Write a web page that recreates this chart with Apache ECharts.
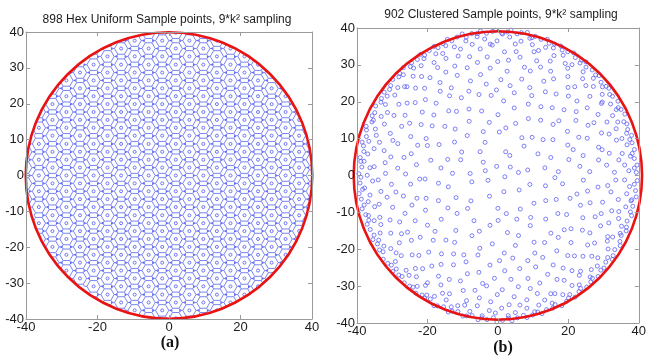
<!DOCTYPE html>
<html><head><meta charset="utf-8">
<script src="https://cdn.jsdelivr.net/npm/echarts@6/dist/echarts.min.js"></script>
<style>html,body{margin:0;padding:0;background:#fff;}#c{width:649px;height:358px;}</style>
</head><body><div id="c"></div>
<script>
// ---------- data ----------
const axisTicksX = [-40, -20, 0, 20, 40];
const axisTicksY = [-40, -30, -20, -10, 0, 10, 20, 30, 40];
const boundaryRadius = [40];

// hex lattice (left panel): column x positions, and y positions of the cell centres in
// alternating columns
const hexColX = [-40.2, -36.4, -32.6, -28.7, -24.9, -21.1, -17.2, -13.4, -9.6, -5.7, -1.9, 1.9, 5.7, 9.6, 13.4, 17.2, 21.1, 24.9, 28.7, 32.6, 36.4, 40.2];
const hexRowYOdd0 = [-37.6, -33.2, -28.7, -24.3, -19.9, -15.5, -11.1, -6.6, -2.2, 2.2, 6.6, 11.1, 15.5, 19.9, 24.3, 28.7, 33.2, 37.6];
const hexRowYEven0 = [-39.8, -35.4, -30.9, -26.5, -22.1, -17.7, -13.3, -8.8, -4.4, 0, 4.4, 8.8, 13.3, 17.7, 22.1, 26.5, 30.9, 35.4, 39.8];

// clustered points (right panel) as [radius, angle in degrees]
const clusteredRim = [[39.3,1.2],[38.8,3.0],[39.6,4.1],[39.0,6.8],[38.6,8.9],[39.4,10.3],[39.1,13.1],[38.7,14.6],[39.5,16.0],[38.9,18.7],[39.2,20.9],[38.6,22.2],[39.7,24.8],
[39.3,27.1],[38.8,28.3],[39.6,30.6],[39.0,33.4],[38.6,34.7],[39.4,36.9],[39.1,38.2],[38.7,40.8],[39.5,43.3],[38.9,44.5],[39.2,46.9],[38.6,49.6],[39.7,51.0],
[39.3,52.8],[38.8,55.5],[39.6,57.1],[39.0,59.4],[38.6,61.8],[39.4,63.0],[39.1,65.7],[38.7,67.9],[39.5,69.2],[38.9,71.6],[39.2,74.3],[38.6,75.5],[39.7,77.8],
[39.3,80.2],[38.8,81.9],[39.6,84.6],[39.0,86.1],[38.6,88.4],[39.4,90.9],[39.1,92.3],[38.7,94.8],[39.5,97.2],[38.9,98.6],[39.2,100.9],[38.6,103.5],[39.7,104.8],
[39.3,107.1],[38.8,109.7],[39.6,111.2],[39.0,113.6],[38.6,116.1],[39.4,117.4],[39.1,119.9],[38.7,122.5],[39.5,123.8],[38.9,126.0],[39.2,128.7],[38.6,130.1],[39.7,132.6],
[39.3,135.2],[38.8,136.4],[39.6,138.9],[39.0,141.3],[38.6,142.8],[39.4,145.0],[39.1,147.7],[38.7,149.1],[39.5,151.5],[38.9,154.0],[39.2,155.6],[38.6,157.9],[39.7,160.4],
[39.3,161.7],[38.8,164.2],[39.6,166.8],[39.0,168.1],[38.6,170.3],[39.4,172.9],[39.1,174.4],[38.7,176.6],[39.5,179.3],[38.9,180.7],[39.2,183.0],[38.6,185.6],[39.7,187.1],
[39.3,189.4],[38.8,191.9],[39.6,193.2],[39.0,195.8],[38.6,198.3],[39.4,199.6],[39.1,202.0],[38.7,204.7],[39.5,206.1],[38.9,208.5],[39.2,211.0],[38.6,212.4],[39.7,214.9],
[39.3,217.3],[38.8,218.8],[39.6,221.1],[39.0,223.8],[38.6,225.2],[39.4,227.6],[39.1,230.1],[38.7,231.5],[39.5,233.9],[38.9,236.4],[39.2,237.9],[38.6,240.2],[39.7,242.8],
[39.3,244.1],[38.8,246.6],[39.6,249.2],[39.0,250.5],[38.6,252.9],[39.4,255.4],[39.1,256.9],[38.7,259.1],[39.5,261.8],[38.9,263.2],[39.2,265.5],[38.6,268.1],[39.7,269.6],
[39.3,271.9],[38.8,274.5],[39.6,275.8],[39.0,278.2],[38.6,280.8],[39.4,282.1],[39.1,284.6],[38.7,287.0],[39.5,288.5],[38.9,290.8],[39.2,293.4],[38.6,294.9],[39.7,297.2],
[39.3,299.7],[38.8,301.1],[39.6,303.6],[39.0,306.2],[38.6,307.5],[39.4,309.8],[39.1,312.4],[38.7,313.9],[39.5,316.1],[38.9,318.7],[39.2,320.2],[38.6,322.5],[39.7,325.0],
[39.3,326.4],[38.8,328.8],[39.6,331.3],[39.0,332.7],[38.6,335.1],[39.4,337.6],[39.1,339.0],[38.7,341.4],[39.5,344.0],[38.9,345.3],[39.2,347.7],[38.6,350.2],[39.7,351.6],
[39.3,354.0],[38.8,356.5],[39.6,358.0]];
const clusteredOuter = [[37.2,2.0],[36.1,4.5],[38.0,7.9],[35.8,9.6],[37.6,12.8],[36.6,15.9],[38.3,17.4],[35.9,20.7],[37.0,23.1],[36.4,26.5],[38.1,28.0],[37.4,31.2],[35.7,33.9],[36.9,36.6],[38.2,39.0],[36.3,41.7],[37.8,44.2],[35.6,47.5],[37.1,49.3],[38.4,52.6],[36.7,55.0],[35.9,57.8],[37.5,60.4],[36.2,63.9],[38.0,65.5],[37.3,68.7],[35.8,71.2],[36.8,74.6],[38.3,76.3],[37.0,79.8],[36.0,82.1],[37.7,84.9],[38.4,88.0],[36.5,90.4],[35.7,93.5],[37.2,95.8],[38.1,98.9],[36.3,101.6],[37.6,104.0],[35.9,107.2],[37.0,109.5],[38.2,112.8],[36.6,115.3],[37.4,118.1],[35.6,120.6],[38.0,123.5],[36.9,126.2],[37.7,129.4],[36.1,131.8],[38.3,134.5],[35.8,137.7],[37.1,140.0],[36.5,143.3],[38.1,145.6],[37.3,148.9],[35.7,151.4],[36.8,154.2],[38.4,157.0],[37.0,160.1],[36.2,162.5],[37.8,165.8],[35.9,168.3],[37.4,171.0],[38.2,174.2],[36.4,176.7],[37.1,179.9],[35.6,182.4],[38.0,185.1],[36.7,188.3],[37.5,190.9],[36.0,193.6],[38.3,196.5],[37.2,199.2],[35.8,201.8],[36.9,205.0],[38.1,207.4],[37.6,210.6],[36.3,213.1],[35.7,216.0],[37.3,218.7],[38.4,221.3],[36.6,224.6],[37.0,227.0],[35.9,229.9],[37.8,232.7],[36.2,235.4],[38.2,238.1],[37.4,241.2],[35.6,243.8],[36.8,246.5],[38.0,249.6],[37.1,252.1],[36.4,255.0],[37.7,257.8],[35.8,260.6],[38.3,263.3],[36.7,266.2],[37.3,268.9],[36.0,271.7],[38.1,274.4],[37.5,277.6],[35.7,280.1],[36.9,282.9],[38.4,285.8],[37.0,288.3],[36.3,291.5],[37.9,294.0],[35.9,296.8],[37.2,299.7],[38.2,302.3],[36.5,305.2],[37.6,307.9],[35.6,310.5],[38.0,313.6],[36.8,316.1],[37.4,319.0],[36.1,321.8],[38.3,324.5],[37.1,327.5],[35.8,330.2],[36.6,332.9],[38.1,335.7],[37.7,338.6],[36.2,341.2],[35.7,344.1],[37.3,346.8],[38.4,349.7],[36.9,352.3],[37.5,355.4],[36.0,358.1]];
const clusteredMid = [[33.1,1.5],[31.0,5.2],[34.6,7.0],[32.2,10.8],[30.4,13.3],[35.0,15.9],[33.5,19.6],[31.6,21.4],[34.2,25.1],[30.8,27.7],[32.9,30.2],[35.3,33.6],[31.3,35.9],[33.8,39.4],[30.2,42.0],[34.9,44.3],[32.5,47.8],[31.1,50.2],[33.4,53.5],[35.2,55.7],[30.6,58.9],[32.0,62.1],[34.4,64.4],[31.8,67.6],[33.0,70.5],[35.1,73.0],[30.3,75.6],[32.7,78.9],[34.0,81.2],[31.4,84.5],[33.6,86.8],[30.9,90.1],[35.4,92.6],[32.3,95.4],[34.7,98.3],[31.2,100.7],[33.2,104.0],[30.5,106.6],[34.3,109.2],[32.1,112.4],[35.0,114.9],[31.7,117.8],[33.9,120.3],[30.1,123.1],[32.8,126.0],[34.5,128.9],[31.5,131.3],[33.3,134.6],[35.3,137.0],[30.7,139.9],[32.4,142.7],[34.1,145.5],[31.0,148.2],[33.7,151.1],[30.4,154.0],[35.1,156.6],[32.6,159.5],[31.3,162.3],[34.8,165.0],[33.0,168.2],[30.8,170.6],[32.2,173.8],[35.2,176.1],[31.9,179.0],[34.0,182.0],[30.3,184.5],[33.5,187.4],[32.0,190.6],[34.6,193.0],[31.1,196.1],[35.4,198.7],[32.9,201.5],[30.6,204.3],[34.2,207.2],[31.6,210.0],[33.4,213.1],[30.2,215.6],[35.0,218.4],[32.5,221.5],[31.2,224.0],[34.4,227.1],[33.1,229.8],[30.9,232.6],[35.3,235.5],[32.1,238.3],[33.8,241.4],[31.4,243.9],[34.9,246.8],[30.5,249.6],[32.7,252.5],[35.1,255.3],[31.8,258.2],[33.6,261.0],[30.1,263.9],[34.3,266.6],[32.3,269.7],[31.0,272.3],[35.2,275.2],[33.2,278.0],[30.7,280.9],[34.7,283.7],[32.0,286.7],[33.9,289.3],[31.5,292.2],[35.4,295.1],[30.3,297.8],[32.8,300.8],[34.1,303.5],[31.2,306.4],[33.3,309.2],[35.0,312.1],[30.8,314.9],[32.6,317.8],[34.5,320.6],[31.7,323.5],[33.0,326.3],[30.4,329.2],[35.3,332.0],[32.2,334.9],[34.0,337.8],[31.1,340.6],[33.7,343.5],[30.6,346.3],[34.8,349.2],[32.4,352.1],[31.3,355.0],[33.5,357.9]];
const clusteredInner = [[26.1,2.3],[23.4,6.1],[28.9,8.4],[24.8,12.6],[29.6,15.0],[22.5,18.2],[27.3,21.7],[25.2,24.3],[29.0,28.0],[23.1,31.2],[26.7,34.0],[28.2,37.9],[22.8,40.6],[25.9,43.5],[29.4,47.1],[24.0,50.0],[27.6,53.2],[22.3,56.8],[26.4,59.3],[28.7,63.0],[23.7,66.1],[25.5,69.2],[29.8,72.0],[27.0,75.5],[22.9,78.3],[24.6,81.9],[28.4,84.7],[26.0,88.1],[23.2,91.0],[29.2,94.3],[25.0,97.6],[27.8,100.2],[22.6,103.7],[26.8,106.9],[24.3,109.8],[29.5,113.0],[23.5,116.2],[27.2,119.1],[25.6,122.4],[28.1,125.6],[22.4,128.5],[26.3,131.8],[29.1,135.0],[24.5,137.9],[27.5,141.3],[23.0,144.2],[25.8,147.6],[28.8,150.5],[22.7,153.8],[26.9,156.9],[24.2,160.2],[29.7,163.1],[25.3,166.5],[27.1,169.6],[23.3,172.8],[28.5,176.0],[26.2,179.1],[22.2,182.5],[24.9,185.4],[29.3,188.8],[27.4,191.7],[23.8,195.0],[25.7,198.2],[28.3,201.3],[22.6,204.6],[26.5,207.6],[29.9,210.9],[24.1,214.0],[27.7,217.2],[23.4,220.3],[25.4,223.7],[28.6,226.6],[22.9,229.9],[26.6,233.0],[29.0,236.2],[24.7,239.4],[27.3,242.5],[23.6,245.8],[25.1,248.9],[28.0,252.0],[22.3,255.3],[26.8,258.4],[29.6,261.6],[24.4,264.7],[27.9,268.0],[23.1,271.2],[25.9,274.3],[28.4,277.5],[22.8,280.7],[26.0,283.8],[29.2,287.0],[24.6,290.2],[27.0,293.4],[23.5,296.5],[25.6,299.8],[28.9,302.9],[22.5,306.1],[26.4,309.3],[29.4,312.4],[24.0,315.6],[27.6,318.8],[23.9,322.0],[25.3,325.2],[28.2,328.3],[22.2,331.5],[26.7,334.6],[29.8,337.9],[24.8,341.0],[27.2,344.2],[23.0,347.4],[25.8,350.6],[28.6,353.7],[24.3,357.0]];
const clusteredCore = [[17.2,3.5],[13.5,8.9],[20.6,12.1],[15.8,18.0],[21.5,22.6],[12.8,27.3],[18.4,31.9],[16.1,37.2],[20.9,41.5],[14.2,46.8],[19.3,51.0],[12.3,56.4],[17.7,60.7],[21.2,65.9],[15.0,70.3],[18.9,75.8],[13.1,80.1],[20.3,85.4],[16.5,89.9],[21.8,95.0],[14.6,99.6],[18.1,104.8],[12.6,109.2],[19.8,114.5],[16.8,119.0],[21.0,124.1],[13.9,128.8],[17.5,133.9],[20.1,138.5],[15.3,143.6],[12.1,148.2],[18.7,153.3],[21.6,157.9],[14.9,163.0],[19.5,167.7],[16.3,172.8],[12.9,177.4],[20.7,182.6],[17.0,187.1],[14.4,192.3],[21.3,196.9],[18.2,202.0],[13.3,206.7],[16.7,211.8],[20.0,216.4],[15.5,221.6],[12.4,226.1],[19.1,231.3],[21.9,235.9],[14.0,241.0],[17.9,245.7],[16.0,250.8],[20.4,255.4],[13.7,260.6],[18.6,265.1],[12.2,270.3],[21.1,274.9],[15.7,280.0],[19.6,284.7],[17.3,289.8],[13.0,294.4],[20.8,299.6],[16.4,304.1],[14.7,309.3],[21.7,313.9],[18.0,319.0],[12.7,323.7],[19.9,328.8],[15.2,333.4],[17.8,338.6],[21.4,343.2],[13.8,348.3],[18.5,353.0],[16.2,358.0],
[8.6,10.0],[4.2,33.0],[10.9,47.0],[6.8,71.0],[2.5,98.0],[9.7,112.0],[5.5,139.0],[11.4,158.0],[7.9,176.0],[3.1,205.0],[10.3,222.0],[6.1,247.0],[8.9,270.0],[4.7,291.0],[11.1,305.0],[7.2,327.0],[2.0,350.0],[9.4,345.0],[5.9,8.0],[11.8,88.0],[7.6,193.0],[10.6,283.0],[3.8,160.0],[8.2,128.0],[6.4,58.0]];

// ---------- styling ----------
const FONT = '"Liberation Sans", Arial, Helvetica, sans-serif';
const AXIS = '#9a9a9a';
const HEX_LINE = '#7a84f2';
const HEX_DOT = '#4350ec';
const PT = '#5f62f4';
const RED = '#e81414';
const RING = 1.85;           // ring radius (data units) of a hex cell
const LIMIT = 41.5;          // centres kept inside this radius (outside is masked)

// ---------- derived tables ----------
const D = hexRowYEven0[1] - hexRowYEven0[0];        // centre-to-centre spacing
const RJ = D / Math.sqrt(3);                        // centre-to-junction distance
const hexCenters = [];
hexColX.forEach((x, i) => {
  const ys = (i % 2 === 0) ? hexRowYOdd0 : hexRowYEven0;
  ys.forEach(y => { if (Math.hypot(x, y) < LIMIT) hexCenters.push([x, y]); });
});
const toXY = p => [p[0] * Math.cos(p[1] * Math.PI / 180), p[0] * Math.sin(p[1] * Math.PI / 180)];
const clusteredPts = [].concat(clusteredRim, clusteredOuter, clusteredMid, clusteredInner, clusteredCore).map(toXY);

function hexItem(params, api) {
  const x = api.value(0), y = api.value(1);
  const P = (a, b) => api.coord([a, b]);
  const ch = [];
  const ring = [];
  for (let k = 0; k < 6; k++) {
    const a = (60 * k) * Math.PI / 180, ca = Math.cos(a), sa = Math.sin(a);
    const v = P(x + RING * ca, y + RING * sa);
    ring.push(v);
    const j = P(x + RJ * ca, y + RJ * sa);
    ch.push({ type: 'line', shape: { x1: v[0], y1: v[1], x2: j[0], y2: j[1] }, style: { stroke: HEX_LINE, lineWidth: 1 } });
  }
  ch.push({ type: 'polygon', shape: { points: ring }, style: { fill: 'transparent', stroke: HEX_LINE, lineWidth: 1 } });
  [0, 60].forEach(deg => {
    const a = deg * Math.PI / 180;
    const p = P(x + RJ * Math.cos(a), y + RJ * Math.sin(a));
    ch.push({ type: 'circle', shape: { cx: p[0], cy: p[1], r: 1.1 }, style: { fill: HEX_DOT, opacity: 0.85 } });
  });
  const c = P(x, y);
  ch.push({ type: 'circle', shape: { cx: c[0], cy: c[1], r: 1.5 }, style: { fill: 'transparent', stroke: '#6d74f2', lineWidth: 1 } });
  return { type: 'group', children: ch };
}

function circleItem(params, api) {
  const c = api.coord([0, 0]);
  const s = api.size([api.value(0), api.value(0)]);
  return { type: 'circle', shape: { cx: c[0], cy: c[1], r: (s[0] + s[1]) / 2 }, style: { fill: 'transparent', stroke: RED, lineWidth: 2.6 } };
}
function maskItem(params, api) {
  const c = api.coord([0, 0]);
  const s = api.size([api.value(0), api.value(0)]);
  const r = (s[0] + s[1]) / 2;
  return { type: 'ring', shape: { cx: c[0], cy: c[1], r: r * 1.6, r0: r }, style: { fill: '#fff' } };
}

function axisPair(gridIndex, pos, interval, showLabel) {
  return {
    type: 'value', gridIndex, position: pos, min: axisTicksX[0], max: axisTicksX[axisTicksX.length - 1], interval, z: 10,
    axisLine: { show: true, onZero: false, lineStyle: { color: AXIS, width: 1 } },
    axisTick: { show: true, inside: true, length: 4, lineStyle: { color: AXIS } },
    splitLine: { show: false },
    axisLabel: showLabel ? { show: true, color: '#1c1c1c', fontSize: 13, fontFamily: FONT, margin: 2, showMinLabel: true, showMaxLabel: true } : { show: false }
  };
}
const xStep = axisTicksX[1] - axisTicksX[0];
const yStep = axisTicksY[1] - axisTicksY[0];

const chart = echarts.init(document.getElementById('c'), null, { renderer: 'canvas' });
chart.setOption({
  animation: false,
  backgroundColor: '#fff',
  grid: [
    { left: 26, top: 32, width: 286, height: 287 },
    { left: 357, top: 28, width: 293, height: 295 }
  ],
  xAxis: [axisPair(0, 'bottom', xStep, true), axisPair(0, 'top', xStep, false), axisPair(1, 'bottom', xStep, true), axisPair(1, 'top', xStep, false)],
  yAxis: [axisPair(0, 'left', yStep, true), axisPair(0, 'right', yStep, false), axisPair(1, 'left', yStep, true), axisPair(1, 'right', yStep, false)],
  graphic: [
    { type: 'text', x: 167, y: 20, style: { text: '898 Hex Uniform Sample points, 9*k² sampling', font: '12px ' + FONT, fill: '#1c1c1c', align: 'center', verticalAlign: 'middle', textAlign: 'center', textVerticalAlign: 'middle' } },
    { type: 'text', x: 501, y: 15, style: { text: '902 Clustered Sample points, 9*k² sampling', font: '12px ' + FONT, fill: '#1c1c1c', align: 'center', verticalAlign: 'middle', textAlign: 'center', textVerticalAlign: 'middle' } },
    { type: 'text', x: 170, y: 343, style: { text: '(a)', font: 'bold 16px "Liberation Serif", "Times New Roman", serif', fill: '#111', align: 'center', verticalAlign: 'middle', textAlign: 'center', textVerticalAlign: 'middle' } },
    { type: 'text', x: 503, y: 348, style: { text: '(b)', font: 'bold 16px "Liberation Serif", "Times New Roman", serif', fill: '#111', align: 'center', verticalAlign: 'middle', textAlign: 'center', textVerticalAlign: 'middle' } }
  ],
  series: [
    { type: 'custom', xAxisIndex: 0, yAxisIndex: 0, data: hexCenters, renderItem: hexItem, clip: true, silent: true, z: 2 },
    { type: 'custom', xAxisIndex: 0, yAxisIndex: 0, data: boundaryRadius.map(r => [r]), encode: { x: [], y: [] }, renderItem: maskItem, clip: true, silent: true, z: 4 },
    { type: 'custom', xAxisIndex: 0, yAxisIndex: 0, data: boundaryRadius.map(r => [r]), encode: { x: [], y: [] }, renderItem: circleItem, clip: false, silent: true, z: 5 },
    { type: 'scatter', xAxisIndex: 2, yAxisIndex: 2, data: clusteredPts, symbol: 'circle', symbolSize: 4, itemStyle: { color: 'transparent', borderColor: PT, borderWidth: 1 }, silent: true, z: 2 },
    { type: 'custom', xAxisIndex: 2, yAxisIndex: 2, data: boundaryRadius.map(r => [r]), encode: { x: [], y: [] }, renderItem: circleItem, clip: false, silent: true, z: 5 }
  ]
});
</script></body></html>
